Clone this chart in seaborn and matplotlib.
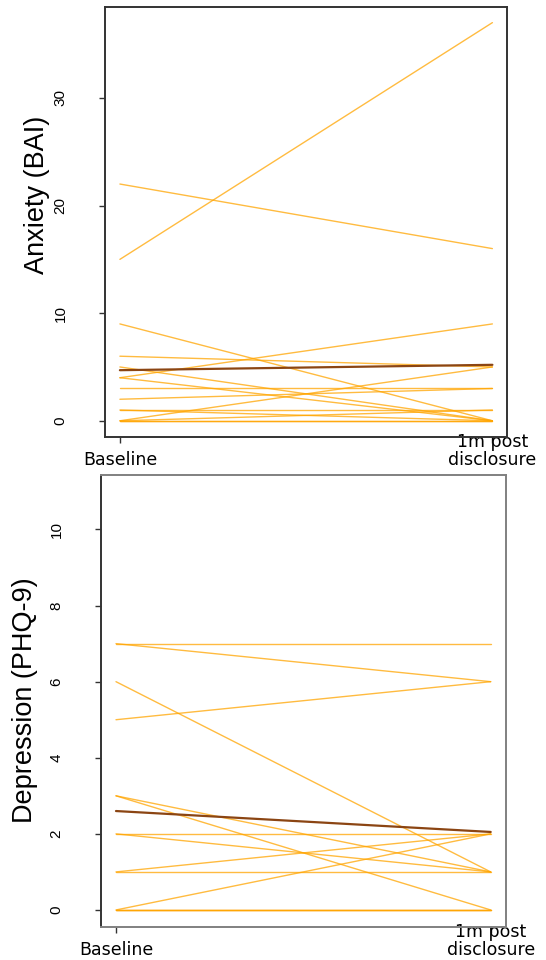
import pandas as pd
import seaborn as sns
import matplotlib
matplotlib.use('Agg')
import matplotlib.pyplot as plt

# time points
timepoints = [0, 1]
time_labels = ['Baseline', '1m post\ndisclosure']

# anxiety (BAI), one entry per participant
anx_base = [15, 22, 9, 6, 5, 4, 4, 3, 2, 1, 1, 0, 0, 0, 0]
anx_post = [37, 16, 0, 5, 0, 9, 0, 3, 3, 1, 0, 5, 1, 0, 0]
anx_mean = [4.7, 5.2]

# depression (PHQ-9)
dep_base = [7, 7, 5, 6, 3, 3, 2, 2, 1, 1, 0, 0, 0, 0]
dep_post = [7, 6, 6, 1, 1, 0, 2, 1, 1, 2, 0, 2, 0, 0]
dep_mean = [2.6, 2.05]


def long_form(base, post):
    rows = []
    for i, (b, p) in enumerate(zip(base, post)):
        rows.append({'id': i, 'time': timepoints[0], 'score': b})
        rows.append({'id': i, 'time': timepoints[1], 'score': p})
    return pd.DataFrame(rows)


anx_df = long_form(anx_base, anx_post)
dep_df = long_form(dep_base, dep_post)
anx_mean_df = pd.DataFrame({'time': timepoints, 'score': anx_mean})
dep_mean_df = pd.DataFrame({'time': timepoints, 'score': dep_mean})

sns.set_style('ticks')
plt.rcParams['font.family'] = ['Liberation Sans', 'DejaVu Sans']
plt.rcParams['text.color'] = 'black'
plt.rcParams['xtick.labelcolor'] = 'black'
plt.rcParams['ytick.labelcolor'] = 'black'

fig = plt.figure(figsize=(5.46, 9.6), dpi=100)
ax1 = fig.add_axes([105 / 546, 1 - 436.7 / 960, 402.3 / 546, 430 / 960])
ax2 = fig.add_axes([101 / 546, 1 - 926.7 / 960, 404.7 / 546, 452 / 960])


def draw(ax, df, mean_df, ylim, yticks, box_color, left_color):
    sns.lineplot(data=df, x='time', y='score', units='id', estimator=None,
                 color='orange', alpha=0.75, lw=1.0, ax=ax)
    sns.lineplot(data=mean_df, x='time', y='score', color='#8B4513',
                 lw=1.6, ax=ax)
    ax.set_xlim(-0.04, 1.04)
    ax.set_ylim(*ylim)
    ax.set_xticks(timepoints)
    ax.set_xticklabels(time_labels, family='DejaVu Sans', fontsize=12.5,
                       va='bottom', linespacing=1.0)
    ax.set_yticks(yticks)
    ax.set_yticklabels([str(t) for t in yticks], fontsize=11, rotation=90,
                       va='center')
    ax.tick_params(axis='x', length=4, width=1, pad=19, color='#333333')
    ax.tick_params(axis='y', length=4, width=1, pad=23, color='#333333')
    ax.set_xlabel('')
    ax.set_ylabel('')
    for side in ['top', 'right', 'bottom']:
        ax.spines[side].set_visible(True)
        ax.spines[side].set_color(box_color)
        ax.spines[side].set_linewidth(1.4)
    ax.spines['left'].set_color(left_color)
    ax.spines['left'].set_linewidth(1.4)


draw(ax1, anx_df, anx_mean_df, (-1.48, 38.48), [0, 10, 20, 30],
     '#333333', '#333333')
draw(ax2, dep_df, dep_mean_df, (-0.44, 11.44), [0, 2, 4, 6, 8, 10],
     '#808080', '#333333')

fig.text(37.5 / 546, 1 - 195 / 960, 'Anxiety (BAI)', rotation=90,
         ha='center', va='center', fontsize=19.5)
fig.text(25.5 / 546, 1 - 700 / 960, 'Depression (PHQ-9)', rotation=90,
         ha='center', va='center', fontsize=19.5)

fig.savefig('out.png', dpi=100)
